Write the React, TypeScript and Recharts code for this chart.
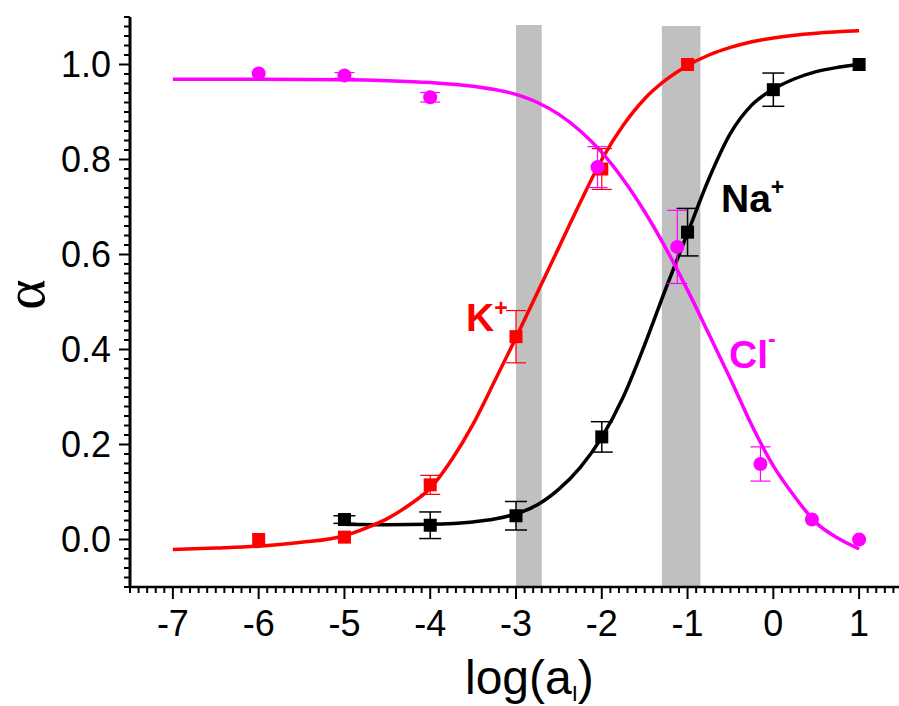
import React from 'react';
import { ComposedChart, XAxis, YAxis, Line, Scatter, ErrorBar, ReferenceArea, Customized } from 'recharts';

// ---- fitted curves ----
const kCurve = [
  { x: -7, y: -0.021 }, { x: -6.5, y: -0.018 }, { x: -6, y: -0.014 }, { x: -5.5, y: -0.006 },
  { x: -5, y: 0.008 }, { x: -4.75, y: 0.024 }, { x: -4.5, y: 0.044 }, { x: -4.25, y: 0.072 },
  { x: -4, y: 0.108 }, { x: -3.75, y: 0.168 }, { x: -3.5, y: 0.243 }, { x: -3.25, y: 0.333 },
  { x: -3, y: 0.425 }, { x: -2.75, y: 0.52 }, { x: -2.5, y: 0.615 }, { x: -2.25, y: 0.71 },
  { x: -2, y: 0.8 }, { x: -1.75, y: 0.872 }, { x: -1.5, y: 0.928 }, { x: -1.25, y: 0.968 },
  { x: -1, y: 0.998 }, { x: -0.75, y: 1.02 }, { x: -0.5, y: 1.036 }, { x: -0.25, y: 1.048 },
  { x: 0, y: 1.056 }, { x: 0.5, y: 1.066 }, { x: 1, y: 1.071 },
];
const naCurve = [
  { x: -5, y: 0.032 }, { x: -4.5, y: 0.031 }, { x: -4, y: 0.032 }, { x: -3.5, y: 0.037 },
  { x: -3.25, y: 0.043 }, { x: -3, y: 0.054 }, { x: -2.75, y: 0.073 }, { x: -2.5, y: 0.106 },
  { x: -2.25, y: 0.152 }, { x: -2, y: 0.215 }, { x: -1.75, y: 0.3 }, { x: -1.5, y: 0.41 },
  { x: -1.25, y: 0.53 }, { x: -1, y: 0.645 }, { x: -0.75, y: 0.76 }, { x: -0.5, y: 0.855 },
  { x: -0.25, y: 0.915 }, { x: 0, y: 0.948 }, { x: 0.25, y: 0.97 }, { x: 0.5, y: 0.985 },
  { x: 0.75, y: 0.994 }, { x: 1, y: 1.0 },
];
const clCurve = [
  { x: -7, y: 0.969 }, { x: -6, y: 0.969 }, { x: -5, y: 0.968 }, { x: -4.5, y: 0.966 },
  { x: -4, y: 0.962 }, { x: -3.5, y: 0.954 }, { x: -3, y: 0.937 }, { x: -2.75, y: 0.92 },
  { x: -2.5, y: 0.895 }, { x: -2.25, y: 0.86 }, { x: -2, y: 0.815 }, { x: -1.75, y: 0.758 },
  { x: -1.5, y: 0.69 }, { x: -1.25, y: 0.612 }, { x: -1, y: 0.525 }, { x: -0.75, y: 0.432 },
  { x: -0.5, y: 0.338 }, { x: -0.25, y: 0.24 }, { x: 0, y: 0.155 }, { x: 0.25, y: 0.09 },
  { x: 0.5, y: 0.035 }, { x: 0.75, y: 0.003 }, { x: 1, y: -0.02 },
];

// ---- measured points with error bars ----
const kPoints = [
  { x: -6, y: 0.0, err: 0 }, { x: -5, y: 0.005, err: 0 }, { x: -4, y: 0.115, err: 0.02 },
  { x: -3, y: 0.427, err: 0.055 }, { x: -2, y: 0.78, err: 0.043 }, { x: -1, y: 1.0, err: 0 },
];
const naPoints = [
  { x: -5, y: 0.042, err: 0.008 }, { x: -4, y: 0.03, err: 0.028 }, { x: -3, y: 0.05, err: 0.03 },
  { x: -2, y: 0.216, err: 0.032 }, { x: -1, y: 0.647, err: 0.05 }, { x: 0, y: 0.947, err: 0.035 },
  { x: 1, y: 1.0, err: 0 },
];
const clPoints = [
  { x: -6, y: 0.981, err: 0 }, { x: -5, y: 0.977, err: 0.006 }, { x: -4, y: 0.931, err: 0.01 },
  { x: -2.05, y: 0.784, err: 0.043 }, { x: -1.12, y: 0.616, err: 0.077 }, { x: -0.15, y: 0.159, err: 0.036 },
  { x: 0.45, y: 0.042, err: 0 }, { x: 1, y: 0.0, err: 0 },
];

// ---- shaded bands ----
const bands = [
  { x1: -3, x2: -2.7, y1: -0.098, y2: 1.083 },
  { x1: -1.3, x2: -0.85, y1: -0.1, y2: 1.081 },
];

// ---- axes ----
const xDomain = [-7.5, 1.5];
const yDomain = [-0.1, 1.1];
const xMajorTicks = [-7, -6, -5, -4, -3, -2, -1, 0, 1];
const xTickLabels = ['-7', '-6', '-5', '-4', '-3', '-2', '-1', '0', '1'];
const yMajorTicks = [0, 0.2, 0.4, 0.6, 0.8, 1.0];
const yTickLabels = ['0.0', '0.2', '0.4', '0.6', '0.8', '1.0'];
const xAllTicks = Array.from({ length: 91 }, (_, i) => Math.round((-7.5 + i * 0.1) * 10) / 10);
const yAllTicks = Array.from({ length: 61 }, (_, i) => Math.round((-0.1 + i * 0.02) * 100) / 100);

const SANS = 'Liberation Sans, Arial, Helvetica, sans-serif';

const XTick = (props: any) => {
  const { x, y, payload } = props;
  const idx = xMajorTicks.findIndex((t) => Math.abs(t - payload.value) < 1e-6);
  const major = idx >= 0;
  return (
    <g>
      <line x1={x} x2={x} y1={y} y2={y + (major ? 12 : 6)} stroke="#000" strokeWidth={2} />
      {major && (
        <text x={x} y={y + 49} textAnchor="middle" fontSize={36} fontFamily={SANS} fill="#000">
          {xTickLabels[idx]}
        </text>
      )}
    </g>
  );
};

const YTick = (props: any) => {
  const { x, y, payload } = props;
  const idx = yMajorTicks.findIndex((t) => Math.abs(t - payload.value) < 1e-6);
  const major = idx >= 0;
  return (
    <g>
      <line x1={x - (major ? 11 : 6)} x2={x} y1={y} y2={y} stroke="#000" strokeWidth={2} />
      {major && (
        <text x={x - 19} y={y + 12.5} textAnchor="end" fontSize={36} fontFamily={SANS} fill="#000">
          {yTickLabels[idx]}
        </text>
      )}
    </g>
  );
};

const Square = (color: string) => (props: any) => {
  const { cx, cy } = props;
  return <rect x={cx - 6.5} y={cy - 6.5} width={13} height={13} fill={color} />;
};
const Dot = (color: string) => (props: any) => {
  const { cx, cy } = props;
  return <circle cx={cx} cy={cy} r={7} fill={color} />;
};

const Annotations = () => (
  <g>
    <text x={466} y={331} fontSize={39} fontWeight="bold" fontFamily={SANS} fill="#ff0000">
      K<tspan fontSize={23} dy={-15}>+</tspan>
    </text>
    <text x={721} y={212} fontSize={39} fontWeight="bold" fontFamily={SANS} fill="#000000">
      Na<tspan fontSize={23} dy={-17}>+</tspan>
    </text>
    <text x={729} y={368} fontSize={39} fontWeight="bold" fontFamily={SANS} fill="#ff00ff">
      Cl<tspan fontSize={23} dy={-21}>-</tspan>
    </text>
    <text x={465} y={694} fontSize={48} fontFamily={SANS} fill="#000">
      log(a<tspan fontSize={22} dy={7}>I</tspan><tspan dy={-7}>)</tspan>
    </text>
    <text
      transform="translate(44,294.5) rotate(-90)"
      textAnchor="middle"
      fontSize={58}
      fontFamily="Liberation Serif, Times New Roman, serif"
      fill="#000"
    >
      α
    </text>
  </g>
);

export default function App() {
  return (
    <div
      style={{
        position: 'absolute',
        left: 0,
        top: 0,
        width: 899,
        height: 706,
        overflow: 'hidden',
        background: '#fff',
      }}
    >
      <ComposedChart width={920} height={706} margin={{ top: 17, right: 18, bottom: 59, left: 30 }}>
        <XAxis
          type="number"
          dataKey="x"
          domain={xDomain}
          ticks={xAllTicks}
          interval={0}
          tick={(p: any) => <XTick {...p} />}
          tickLine={false}
          tickSize={0}
          tickMargin={0}
          axisLine={{ stroke: '#000', strokeWidth: 2.5 }}
          height={60}
          allowDataOverflow
        />
        <YAxis
          type="number"
          dataKey="y"
          domain={yDomain}
          ticks={yAllTicks}
          interval={0}
          tick={(p: any) => <YTick {...p} />}
          tickLine={false}
          tickSize={0}
          tickMargin={0}
          axisLine={{ stroke: '#000', strokeWidth: 3 }}
          width={100}
          allowDataOverflow
        />
        {bands.map((b, i) => (
          <ReferenceArea
            key={i}
            x1={b.x1}
            x2={b.x2}
            y1={b.y1}
            y2={b.y2}
            fill="#c0c0c0"
            fillOpacity={1}
            stroke="none"
            ifOverflow="visible"
          />
        ))}
        <Line data={naCurve} dataKey="y" type="monotone" stroke="#000000" strokeWidth={3.5} dot={false} activeDot={false} isAnimationActive={false} />
        <Line data={kCurve} dataKey="y" type="monotone" stroke="#ff0000" strokeWidth={3.5} dot={false} activeDot={false} isAnimationActive={false} />
        <Line data={clCurve} dataKey="y" type="monotone" stroke="#ff00ff" strokeWidth={3.5} dot={false} activeDot={false} isAnimationActive={false} />
        <Scatter data={naPoints} dataKey="y" shape={Square('#000000')} isAnimationActive={false}>
          <ErrorBar dataKey="err" direction="y" width={11} stroke="#000000" strokeWidth={1.5} />
        </Scatter>
        <Scatter data={kPoints} dataKey="y" shape={Square('#ff0000')} isAnimationActive={false}>
          <ErrorBar dataKey="err" direction="y" width={10} stroke="#ff0000" strokeWidth={1.2} />
        </Scatter>
        <Scatter data={clPoints} dataKey="y" shape={Dot('#ff00ff')} isAnimationActive={false}>
          <ErrorBar dataKey="err" direction="y" width={10} stroke="#ff00ff" strokeWidth={1.2} />
        </Scatter>
        <Customized component={Annotations} />
      </ComposedChart>
    </div>
  );
}
